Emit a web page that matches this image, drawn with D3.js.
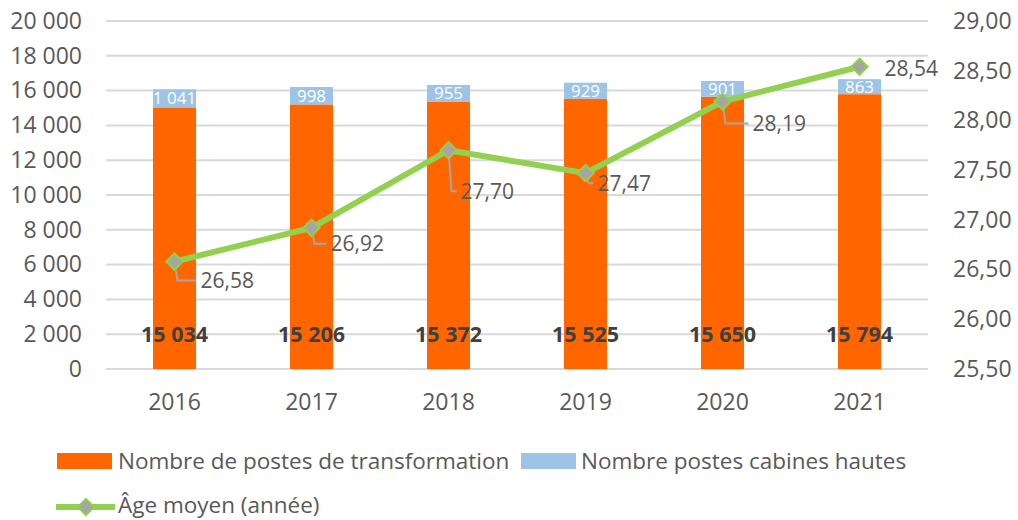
<!DOCTYPE html>
<html>
<head>
<meta charset="utf-8">
<script src="https://cdn.jsdelivr.net/npm/d3@7"></script>
<style>
  body { margin: 0; background: #fff; }
  svg { display: block; font-family: "Open Sans", sans-serif; }
</style>
</head>
<body>
<svg id="chart"></svg>
<script>
// Chart data
const years = ["2016", "2017", "2018", "2019", "2020", "2021"];
const postes = [15034, 15206, 15372, 15525, 15650, 15794];
const cabines = [1041, 998, 955, 929, 901, 863];
const ageMoyen = [26.58, 26.92, 27.70, 27.47, 28.19, 28.54];
const leftTicks = [0, 2000, 4000, 6000, 8000, 10000, 12000, 14000, 16000, 18000, 20000];
const rightTicks = [25.5, 26, 26.5, 27, 27.5, 28, 28.5, 29];
const seriesNames = ["Nombre de postes de transformation", "Nombre postes cabines hautes", "Âge moyen (année)"];

// label placement of the age labels (offset from the point, like the Excel chart)
const labelOffsets = [[26, 19], [19, 16], [12, 41], [12, 10], [30, 22], [25, 2]];

const width = 1018, height = 520;
const plot = {left: 106, right: 928, top: 21, bottom: 369};
const colors = {postes: "#ff6600", cabines: "#9dc3e6", line: "#92d050", marker: "#a5a5a5",
                grid: "#d9d9d9", text: "#595959", label: "#404040"};

const fr = d3.formatLocale({decimal: ",", thousands: " ", grouping: [3], currency: ["", " €"]});
const fmtInt = fr.format(",d");
const fmtDec = fr.format(".2f");

const svg = d3.select("#chart")
    .attr("width", width)
    .attr("height", height);

const x = d3.scaleBand()
    .domain(years)
    .range([plot.left, plot.right])
    .paddingInner(0.686)
    .paddingOuter(0.343);

const y = d3.scaleLinear().domain([0, 20000]).range([plot.bottom, plot.top]);
const y2 = d3.scaleLinear().domain([25.5, 29]).range([plot.bottom, plot.top]);

// gridlines
svg.append("g")
  .selectAll("line")
  .data(leftTicks)
  .join("line")
    .attr("x1", plot.left)
    .attr("x2", plot.right)
    .attr("y1", d => y(d))
    .attr("y2", d => y(d))
    .attr("stroke", colors.grid)
    .attr("stroke-width", 2);

// axes
const axisStyle = g => {
  g.select(".domain").remove();
  g.selectAll("text").attr("fill", colors.text).attr("font-size", 23).attr("font-family", "Open Sans");
};

svg.append("g")
    .attr("transform", `translate(${plot.left},0)`)
    .call(d3.axisLeft(y).tickValues(leftTicks).tickFormat(fmtInt).tickSize(0).tickPadding(24))
    .call(axisStyle);

svg.append("g")
    .attr("transform", `translate(${plot.right},0)`)
    .call(d3.axisRight(y2).tickValues(rightTicks).tickFormat(fmtDec).tickSize(0).tickPadding(25))
    .call(axisStyle);

svg.append("g")
    .attr("transform", `translate(0,${plot.bottom})`)
    .call(d3.axisBottom(x).tickSize(0).tickPadding(25))
    .call(axisStyle);

// stacked bars
const rows = years.map((yr, i) => ({year: yr, postes: postes[i], cabines: cabines[i], age: ageMoyen[i]}));

svg.append("g")
  .selectAll("rect")
  .data(rows)
  .join("rect")
    .attr("x", d => x(d.year))
    .attr("width", x.bandwidth())
    .attr("y", d => y(d.postes))
    .attr("height", d => y(0) - y(d.postes))
    .attr("fill", colors.postes);

svg.append("g")
  .selectAll("rect")
  .data(rows)
  .join("rect")
    .attr("x", d => x(d.year))
    .attr("width", x.bandwidth())
    .attr("y", d => y(d.postes + d.cabines))
    .attr("height", d => y(d.postes) - y(d.postes + d.cabines))
    .attr("fill", colors.cabines);

// bar labels
svg.append("g")
  .selectAll("text")
  .data(rows)
  .join("text")
    .attr("x", d => x(d.year) + x.bandwidth() / 2)
    .attr("y", y(0) - 35)
    .attr("dy", "0.35em")
    .attr("text-anchor", "middle")
    .attr("font-size", 21.5)
    .attr("font-weight", "bold")
    .attr("fill", colors.label)
    .text(d => fmtInt(d.postes));

svg.append("g")
  .selectAll("text")
  .data(rows)
  .join("text")
    .attr("x", d => x(d.year) + x.bandwidth() / 2)
    .attr("y", d => y(d.postes + d.cabines / 2))
    .attr("dy", "0.36em")
    .attr("text-anchor", "middle")
    .attr("font-size", 17)
    .attr("fill", "#fff")
    .text(d => fmtInt(d.cabines));

// age line
const cx = d => x(d.year) + x.bandwidth() / 2;
const line = d3.line().x(cx).y(d => y2(d.age));

svg.append("path")
    .datum(rows)
    .attr("d", line)
    .attr("fill", "none")
    .attr("stroke", colors.line)
    .attr("stroke-width", 6)
    .attr("stroke-linejoin", "round");

// leader lines for the age labels
svg.append("g")
  .selectAll("path")
  .data(rows.filter((d, i) => labelOffsets[i][1] > 5))
  .join("path")
    .attr("d", d => {
      const i = rows.indexOf(d);
      const [dx, dy] = labelOffsets[i];
      const px = cx(d), py = y2(d.age);
      return `M${px},${py}L${px + 3},${py + dy}L${px + dx - 4},${py + dy}`;
    })
    .attr("fill", "none")
    .attr("stroke", colors.marker)
    .attr("stroke-width", 2);

const diamond = d3.symbol().type(d3.symbolDiamond2).size(170);

svg.append("g")
  .selectAll("path")
  .data(rows)
  .join("path")
    .attr("transform", d => `translate(${cx(d)},${y2(d.age)})`)
    .attr("d", diamond)
    .attr("fill", colors.marker)
    .attr("stroke", colors.line)
    .attr("stroke-width", 2);

svg.append("g")
  .selectAll("text")
  .data(rows)
  .join("text")
    .attr("x", (d, i) => cx(d) + labelOffsets[i][0])
    .attr("y", (d, i) => y2(d.age) + labelOffsets[i][1])
    .attr("dy", "0.36em")
    .attr("font-size", 21)
    .attr("fill", colors.text)
    .text(d => fmtDec(d.age));

// legend
const legend = svg.append("g").attr("font-size", 22.5).attr("fill", colors.text);

legend.append("rect").attr("x", 57).attr("y", 453).attr("width", 55).attr("height", 16).attr("fill", colors.postes);
legend.append("text").attr("x", 118).attr("y", 461).attr("dy", "0.36em").text(seriesNames[0]);

legend.append("rect").attr("x", 521).attr("y", 453).attr("width", 55).attr("height", 16).attr("fill", colors.cabines);
legend.append("text").attr("x", 581).attr("y", 461).attr("dy", "0.36em").text(seriesNames[1]);

legend.append("line").attr("x1", 56).attr("x2", 115).attr("y1", 507).attr("y2", 507)
    .attr("stroke", colors.line).attr("stroke-width", 6);
legend.append("path").attr("transform", "translate(86,507)").attr("d", diamond)
    .attr("fill", colors.marker).attr("stroke", colors.line).attr("stroke-width", 2);
legend.append("text").attr("x", 118).attr("y", 505).attr("dy", "0.36em").text(seriesNames[2]);
</script>
</body>
</html>
